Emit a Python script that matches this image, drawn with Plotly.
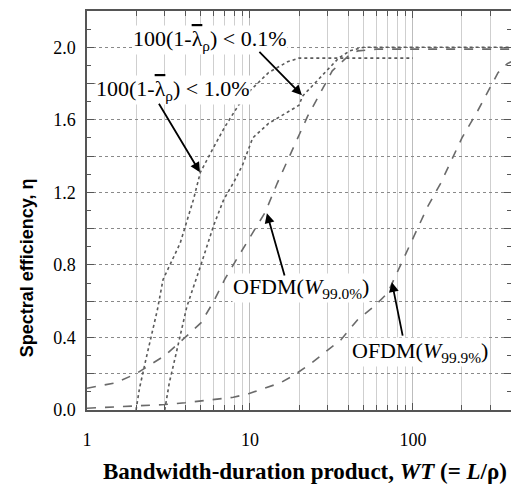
import plotly.graph_objects as go
import math

# ---- data ----
wt_01 = [3.0, 3.2, 3.5, 3.8, 4.1, 5, 6, 6.9, 8, 9, 10.4, 13, 17, 20, 21, 26, 30, 35, 41, 50, 100, 400]
eta_01 = [0, 0.15, 0.3, 0.45, 0.57, 0.8, 1.02, 1.16, 1.26, 1.35, 1.5, 1.58, 1.64, 1.68, 1.73, 1.82, 1.88, 1.94, 1.98, 2.0, 2.0, 2.0]

wt_10 = [2.0, 2.1, 2.3, 2.5, 2.7, 2.93, 3.3, 3.73, 4.5, 4.96, 6, 7, 8.5, 10, 13, 17, 20, 30, 50, 100]
eta_10 = [0, 0.12, 0.28, 0.42, 0.55, 0.72, 0.82, 0.92, 1.16, 1.31, 1.45, 1.56, 1.68, 1.76, 1.86, 1.92, 1.94, 1.94, 1.94, 1.94]

wt_w990 = [1, 1.5, 2, 3, 4, 5, 6, 7, 8.4, 10, 12.4, 14.7, 18.5, 22.6, 26, 32, 41, 46, 60, 100, 200, 400]
eta_w990 = [0.12, 0.15, 0.2, 0.3, 0.4, 0.48, 0.6, 0.72, 0.84, 0.95, 1.09, 1.25, 1.45, 1.62, 1.72, 1.87, 1.96, 1.98, 1.99, 1.99, 1.99, 1.99]

wt_w999 = [1, 2, 3, 4, 5, 6.3, 7.9, 9.8, 12.4, 15.4, 18.5, 24, 30, 36, 46, 57.6, 70, 84, 101, 123, 148, 200, 250, 333, 380, 400]
eta_w999 = [0.01, 0.02, 0.03, 0.04, 0.05, 0.06, 0.07, 0.09, 0.12, 0.15, 0.19, 0.26, 0.33, 0.385, 0.5, 0.57, 0.645, 0.8, 0.95, 1.12, 1.25, 1.5, 1.65, 1.86, 1.91, 1.92]

y_tickvals = [0, 0.2, 0.4, 0.6, 0.8, 1.0, 1.2, 1.4, 1.6, 1.8, 2.0, 2.2]
y_ticktext = ["0.0", "", "0.4", "", "0.8", "", "1.2", "", "1.6", "", "2.0", ""]

lam_bar = '<span style="text-decoration:overline">λ</span>'
lbl_01 = "100(1-" + lam_bar + "<sub>ρ</sub>) &lt; 0.1%"
lbl_10 = "100(1-" + lam_bar + "<sub>ρ</sub>) &lt; 1.0%"
lbl_w990 = "OFDM(<i>W</i><sub>99.0%</sub>)"
lbl_w999 = "OFDM(<i>W</i><sub>99.9%</sub>)"
x_title = "<b>Bandwidth-duration product, <i>WT</i> (= <i>L</i>/ρ)</b>"
y_title = "<b>Spectral efficiency, η</b>"

fig = go.Figure()
dot_col = "#5a5a5a"
dash_col = "#6a6a6a"
fig.add_trace(go.Scatter(x=wt_01, y=eta_01, mode="lines",
                         line=dict(color=dot_col, width=1.6, dash="dot")))
fig.add_trace(go.Scatter(x=wt_10, y=eta_10, mode="lines",
                         line=dict(color=dot_col, width=1.6, dash="dot")))
fig.add_trace(go.Scatter(x=wt_w990, y=eta_w990, mode="lines",
                         line=dict(color=dash_col, width=1.6, dash="dash")))
fig.add_trace(go.Scatter(x=wt_w999, y=eta_w999, mode="lines",
                         line=dict(color=dash_col, width=1.6, dash="dash")))

L = math.log10
txt_font = dict(family="Liberation Serif", size=22, color="black")

# text labels
for txt, lx, ly in [(lbl_01, 0.755, 2.04), (lbl_10, 0.528, 1.763),
                    (lbl_w990, 1.313, 0.672), (lbl_w999, 2.043, 0.32)]:
    fig.add_annotation(x=lx, y=ly, xref="x", yref="y", text=txt, showarrow=False,
                       font=txt_font, bgcolor="white", borderpad=0)

# arrows (tip, tail)
for tip, tail in [((1.319, 1.736), (1.049, 1.983)),
                  ((0.693, 1.311), (0.436, 1.697)),
                  ((1.104, 1.085), (1.215, 0.733)),
                  ((1.871, 0.705), (1.939, 0.402))]:
    fig.add_annotation(x=tip[0], y=tip[1], ax=tail[0], ay=tail[1],
                       xref="x", yref="y", axref="x", ayref="y", text="",
                       showarrow=True, arrowhead=2, arrowsize=1.1, arrowwidth=1.8,
                       arrowcolor="black")

# axis titles as annotations (positioned like the reference)
fig.add_annotation(x=0.514, y=-0.155, xref="paper", yref="paper", text=x_title,
                   xanchor="center", yanchor="middle",
                   showarrow=False, font=dict(family="Liberation Serif", size=23, color="black"))
fig.add_annotation(x=-0.1415, y=0.355, xref="paper", yref="paper", text=y_title,
                   xanchor="center", yanchor="middle",
                   textangle=-90, showarrow=False,
                   font=dict(family="Liberation Sans", size=18, color="black"))

fig.update_xaxes(type="log", range=[0, L(400)], dtick=1, automargin=False,
                 tickfont=dict(family="Liberation Serif", size=18, color="black"),
                 showgrid=True, gridcolor="#bdbdbd", gridwidth=1,
                 minor=dict(dtick="D1", showgrid=True, gridcolor="#cfcfcf", gridwidth=1,
                            ticks="inside", ticklen=5, tickcolor="#555"),
                 ticks="inside", ticklen=7, tickcolor="#555",
                 showline=True, linecolor="#555", linewidth=1.5, mirror="ticks",
                 ticklabelstandoff=13)
fig.update_yaxes(range=[0, 2.2], tickmode="array", tickvals=y_tickvals, ticktext=y_ticktext,
                 automargin=False,
                 tickfont=dict(family="Liberation Serif", size=18, color="black"),
                 showgrid=True, gridcolor="#8a8a8a", griddash="dot", gridwidth=1,
                 zeroline=False,
                 minor=dict(dtick=0.1, tick0=0, ticks="inside", ticklen=4, tickcolor="#555",
                            showgrid=False),
                 ticks="inside", ticklen=7, tickcolor="#555",
                 showline=True, linecolor="#555", linewidth=1.5, mirror="ticks",
                 ticklabelstandoff=6)

# the page adds an 8px body margin, so margins are offset to land the plot area in place
fig.update_layout(width=519, height=486, margin=dict(l=79, r=16, t=3, b=84),
                  plot_bgcolor="white", paper_bgcolor="white", showlegend=False,
                  font=dict(family="Liberation Serif", color="black"))

fig.write_html("out.html")
